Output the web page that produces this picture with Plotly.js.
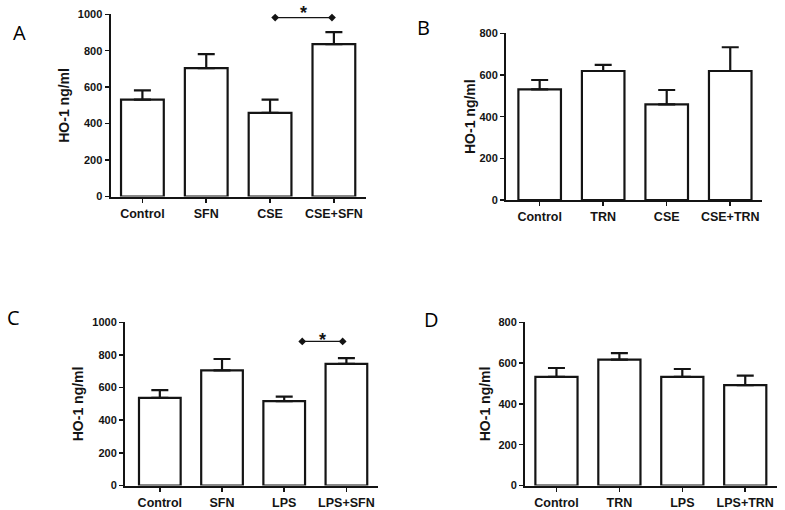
<!DOCTYPE html>
<html>
<head>
<meta charset="utf-8">
<script src="https://cdn.plot.ly/plotly-3.0.1.min.js"></script>
<style>
  html, body { margin: 0; padding: 0; background: #ffffff; }
  #chart { width: 785px; height: 510px; }
</style>
</head>
<body>
<div id="chart"></div>
<script>
// ---------- DATA ----------
const catsA = ['Control', 'SFN', 'CSE', 'CSE+SFN'];
const meanA = [532, 705, 459, 836];
const errA  = [50, 76, 73, 66];

const catsB = ['Control', 'TRN', 'CSE', 'CSE+TRN'];
const meanB = [531, 619, 459, 619];
const errB  = [45, 29, 69, 114];

const catsC = ['Control', 'SFN', 'LPS', 'LPS+SFN'];
const meanC = [537, 706, 517, 745];
const errC  = [47, 69, 27, 36];

const catsD = ['Control', 'TRN', 'LPS', 'LPS+TRN'];
const meanD = [532, 617, 532, 492];
const errD  = [44, 32, 39, 47];

// significance brackets (x in category index units, y in ng/ml)
const sigAx = [2.08, 2.97];
const sigAy = [982, 982];
const sigCx = [2.29, 2.94];
const sigCy = [883, 883];

const yTitle = 'HO-1 ng/ml';
const panelLetters = ['A', 'B', 'C', 'D'];

// ---------- STYLE / LAYOUT ----------
const W = 785, H = 510;
const INK = '#141414';
const fx = px => px / W;
const fy = px => (H - px) / H;

function barTrace(cats, mean, err, xa, ya) {
  return {
    type: 'bar',
    x: cats.map((c, i) => i),
    y: mean,
    width: 0.67,
    xaxis: xa, yaxis: ya,
    marker: { color: '#ffffff', line: { color: INK, width: 2.2 } },
    error_y: {
      type: 'data', symmetric: false,
      array: err, arrayminus: err.map(() => 0),
      color: INK, thickness: 2.2, width: 8.5
    },
    hoverinfo: 'x+y'
  };
}

function sigTrace(xs, ys, xa, ya) {
  return {
    type: 'scatter', mode: 'lines+markers',
    x: xs, y: ys, xaxis: xa, yaxis: ya,
    line: { color: INK, width: 1.2 },
    marker: { symbol: 'diamond', size: 6, color: INK },
    cliponaxis: false, hoverinfo: 'skip'
  };
}

const FAM = 'Liberation Sans, Arial, sans-serif';
const tickFontY = { family: FAM, size: 11, color: INK, weight: 'bold' };
const tickFontX = { family: FAM, size: 12.5, color: INK, weight: 'bold' };
const titleFont = { family: FAM, size: 14, color: INK, weight: 'bold' };

function xAxis(cats, dom, range, anchor) {
  return {
    domain: dom, range: range, anchor: anchor,
    tickmode: 'array', tickvals: cats.map((c, i) => i), ticktext: cats,
    showline: true, linecolor: INK, linewidth: 2,
    ticks: 'outside', ticklen: 4, tickwidth: 1.5, tickcolor: INK,
    showgrid: false, zeroline: false, tickfont: tickFontX, fixedrange: true
  };
}
function yAxis(dom, range, anchor, standoff) {
  return {
    domain: dom, range: range, anchor: anchor, dtick: 200,
    showline: true, linecolor: INK, linewidth: 2,
    ticks: 'outside', ticklen: 4, tickwidth: 1.5, tickcolor: INK,
    showgrid: false, zeroline: false, tickfont: tickFontY, fixedrange: true,
    title: { text: yTitle, font: titleFont, standoff: standoff }
  };
}

const data = [
  barTrace(catsA, meanA, errA, 'x', 'y'),
  barTrace(catsB, meanB, errB, 'x2', 'y2'),
  barTrace(catsC, meanC, errC, 'x3', 'y3'),
  barTrace(catsD, meanD, errD, 'x4', 'y4'),
  sigTrace(sigAx, sigAy, 'x', 'y'),
  sigTrace(sigCx, sigCy, 'x3', 'y3')
];

const letterFont = { family: 'Open Sans, Noto Sans, sans-serif', size: 20, color: '#000000' };
const letterPos = [[19, 32], [423, 27.5], [13, 317.5], [431, 319]];

const annotations = panelLetters.map((L, i) => ({
  text: L, xref: 'paper', yref: 'paper',
  x: fx(letterPos[i][0]), y: fy(letterPos[i][1]),
  xanchor: 'center', yanchor: 'middle', showarrow: false, font: letterFont
}));
const starFont = { family: FAM, size: 18, color: INK, weight: 'bold' };
annotations.push({
  text: '*', xref: 'x', yref: 'y',
  x: (sigAx[0] + sigAx[1]) / 2, y: sigAy[0],
  xanchor: 'center', yanchor: 'middle', yshift: 5, showarrow: false, font: starFont
});
annotations.push({
  text: '*', xref: 'x3', yref: 'y3',
  x: (sigCx[0] + sigCx[1]) / 2, y: sigCy[0],
  xanchor: 'center', yanchor: 'middle', yshift: 1, showarrow: false, font: starFont
});

const layout = {
  width: W, height: H,
  margin: { l: 0, r: 0, t: 0, b: 0, pad: 0 },
  paper_bgcolor: '#ffffff', plot_bgcolor: '#ffffff',
  showlegend: false,
  font: { family: FAM, color: INK },
  xaxis:  xAxis(catsA, [fx(110.5), fx(365.8)], [-0.5, 3.5], 'y'),
  yaxis:  yAxis([fy(196.5), fy(14.3)], [0, 1000], 'x', 5),
  xaxis2: xAxis(catsB, [fx(506), fx(762)], [-0.53, 3.5], 'y2'),
  yaxis2: yAxis([fy(200), fy(33.3)], [0, 800], 'x2', 1),
  xaxis3: xAxis(catsC, [fx(125), fx(377.5)], [-0.56, 3.5], 'y3'),
  yaxis3: yAxis([fy(485.5), fy(322.3)], [0, 1000], 'x3', 5),
  xaxis4: xAxis(catsD, [fx(525), fx(776.7)], [-0.5, 3.5], 'y4'),
  yaxis4: yAxis([fy(485.5), fy(322.3)], [0, 800], 'x4', 5),
  annotations: annotations
};

Plotly.newPlot('chart', data, layout, { displayModeBar: false, staticPlot: true });
</script>
</body>
</html>
